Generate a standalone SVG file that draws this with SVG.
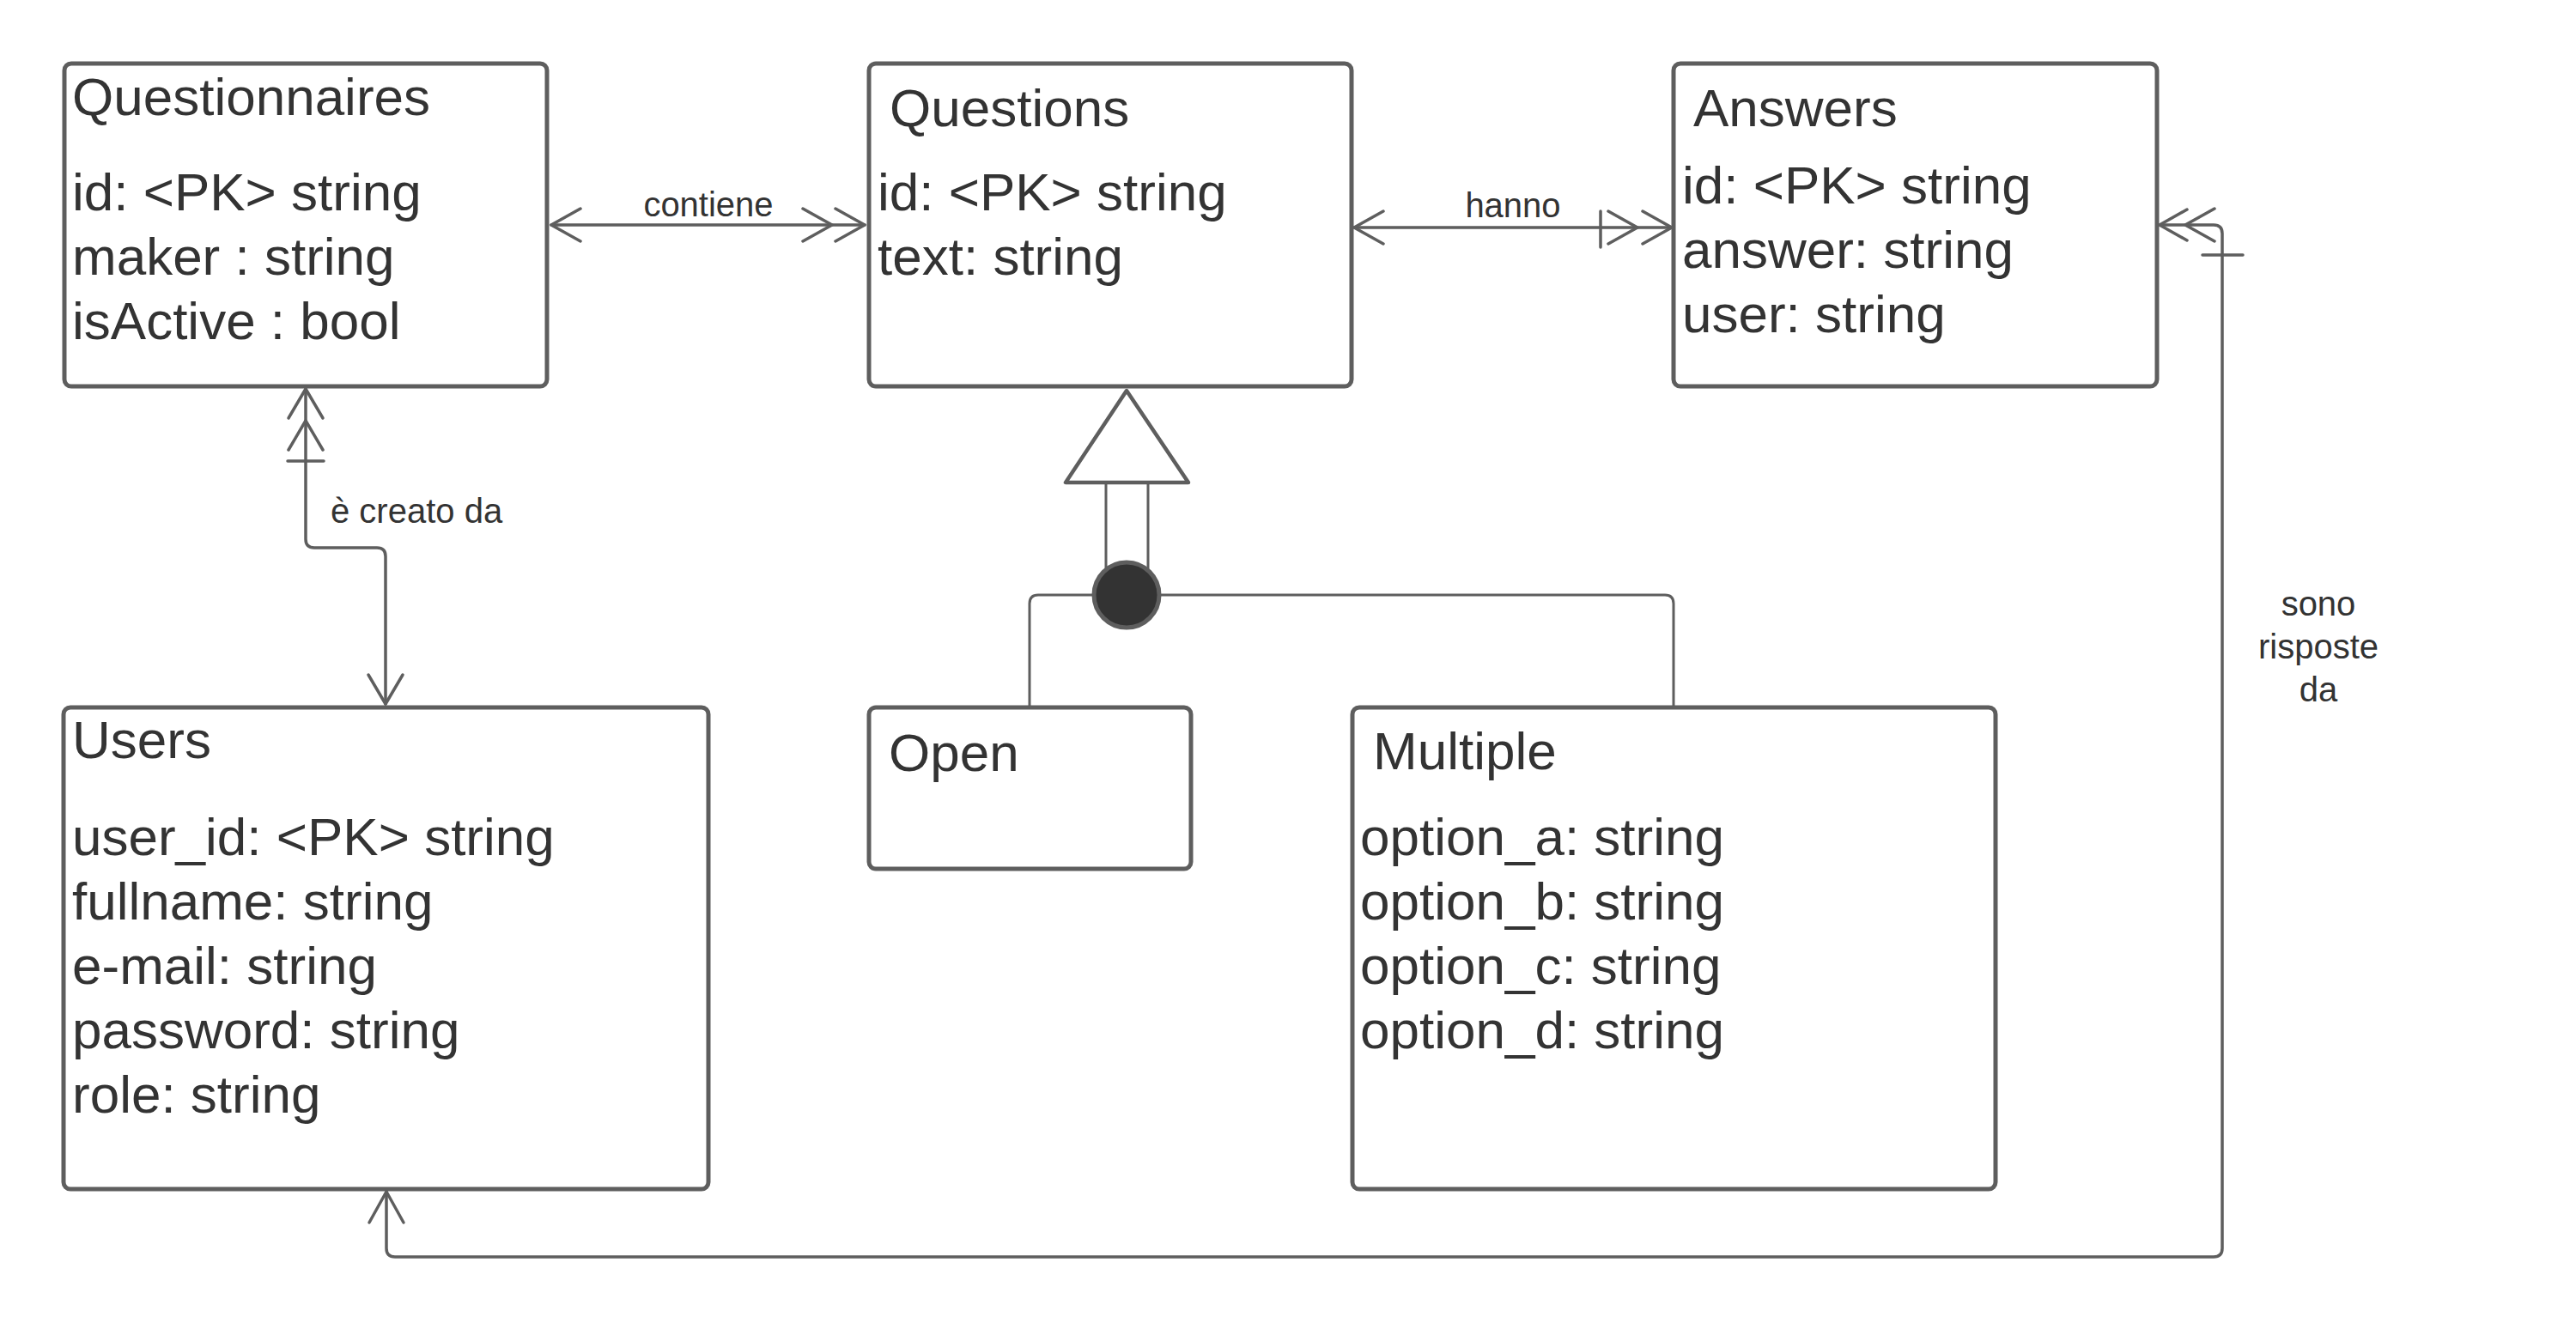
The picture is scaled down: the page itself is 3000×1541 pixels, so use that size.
<svg xmlns="http://www.w3.org/2000/svg" width="3000" height="1541" viewBox="0 0 3000 1541">
<style>
.box{fill:#ffffff;stroke:#5e5e5e;stroke-width:5}
.t{font-family:"Liberation Sans",Arial,sans-serif;font-size:62px;fill:#333333}
.lbl{font-family:"Liberation Sans",Arial,sans-serif;font-size:40px;fill:#333333}
.ln{fill:none;stroke:#5e5e5e;stroke-width:3.5;stroke-linecap:round;stroke-linejoin:round}
.thin{fill:none;stroke:#5e5e5e;stroke-width:3}
</style>
<rect width="3000" height="1541" fill="#ffffff"/>
<g id="connectors">
<g id="c-contiene">
<path class="ln" d="M642,262 H1007"/>
<path class="ln" d="M676,243 L642,262 L676,281"/>
<path class="ln" d="M973,243 L1007,262 L973,281"/>
<path class="ln" d="M935,243 L969,262 L935,281"/>
<text class="lbl" x="825" y="252" text-anchor="middle">contiene</text>
</g>
<g id="c-hanno">
<path class="ln" d="M1577,265 H1947"/>
<path class="ln" d="M1611,246 L1577,265 L1611,284"/>
<path class="ln" d="M1864,246 V288"/>
<path class="ln" d="M1873,246 L1907,265 L1873,284"/>
<path class="ln" d="M1913,246 L1947,265 L1913,284"/>
<text class="lbl" x="1762" y="253" text-anchor="middle">hanno</text>
</g>
<g id="c-creato">
<path class="ln" d="M356,453 V628 Q356,638 366,638 H439 Q449,638 449,648 V820"/>
<path class="ln" d="M336,487 L356,453 L376,487"/>
<path class="ln" d="M336,524 L356,490 L376,524"/>
<path class="ln" d="M335,537 H377"/>
<path class="ln" d="M429,786 L449,820 L469,786"/>
<text class="lbl" x="385" y="609">è creato da</text>
</g>
<g id="c-risposte">
<path class="ln" d="M2515,262 H2578 Q2588,262 2588,272 V1454 Q2588,1464 2578,1464 H460 Q450,1464 450,1454 V1388"/>
<path class="ln" d="M2547,244 L2515,262 L2547,280"/>
<path class="ln" d="M2579,243 L2545,262 L2579,281"/>
<path class="ln" d="M2565,297 H2612"/>
<path class="ln" d="M430,1424 L450,1388 L470,1424"/>
<text class="lbl" text-anchor="middle"><tspan x="2700" y="717">sono</tspan><tspan x="2700" y="767">risposte</tspan><tspan x="2700" y="817">da</tspan></text>
</g>
<g id="c-inherit">
<path class="thin" d="M1199,822 V703 Q1199,693 1209,693 H1939 Q1949,693 1949,703 V824"/>
<path class="thin" d="M1288,562 V665 M1337,562 V665"/>
<polygon points="1312,455 1241,562 1384,562" fill="#ffffff" stroke="#5e5e5e" stroke-width="4.5" stroke-linejoin="round"/>
<circle cx="1312" cy="693" r="38" fill="#333333" stroke="#5e5e5e" stroke-width="5"/>
</g>
</g>
<g id="node-questionnaires">
<rect class="box" x="75" y="74" width="562" height="376" rx="8"/>
<text class="t" x="84" y="134">Questionnaires</text>
<text class="t" x="84" y="245">id: &lt;PK&gt; string</text>
<text class="t" x="84" y="320">maker : string</text>
<text class="t" x="84" y="395">isActive : bool</text>
</g>
<g id="node-questions">
<rect class="box" x="1012" y="74" width="562" height="376" rx="8"/>
<text class="t" x="1036" y="147">Questions</text>
<text class="t" x="1022" y="245">id: &lt;PK&gt; string</text>
<text class="t" x="1022" y="320">text: string</text>
</g>
<g id="node-answers">
<rect class="box" x="1949" y="74" width="563" height="376" rx="8"/>
<text class="t" x="1972" y="147">Answers</text>
<text class="t" x="1959" y="237">id: &lt;PK&gt; string</text>
<text class="t" x="1959" y="312">answer: string</text>
<text class="t" x="1959" y="387">user: string</text>
</g>
<g id="node-users">
<rect class="box" x="74" y="824" width="751" height="561" rx="8"/>
<text class="t" x="84" y="883">Users</text>
<text class="t" x="84" y="996">user_id: &lt;PK&gt; string</text>
<text class="t" x="84" y="1071">fullname: string</text>
<text class="t" x="84" y="1146">e-mail: string</text>
<text class="t" x="84" y="1221">password: string</text>
<text class="t" x="84" y="1296">role: string</text>
</g>
<g id="node-open">
<rect class="box" x="1012" y="824" width="375" height="188" rx="8"/>
<text class="t" x="1035" y="898">Open</text>
</g>
<g id="node-multiple">
<rect class="box" x="1575" y="824" width="749" height="561" rx="8"/>
<text class="t" x="1599" y="896">Multiple</text>
<text class="t" x="1584" y="996">option_a: string</text>
<text class="t" x="1584" y="1071">option_b: string</text>
<text class="t" x="1584" y="1146">option_c: string</text>
<text class="t" x="1584" y="1221">option_d: string</text>
</g>
</svg>
